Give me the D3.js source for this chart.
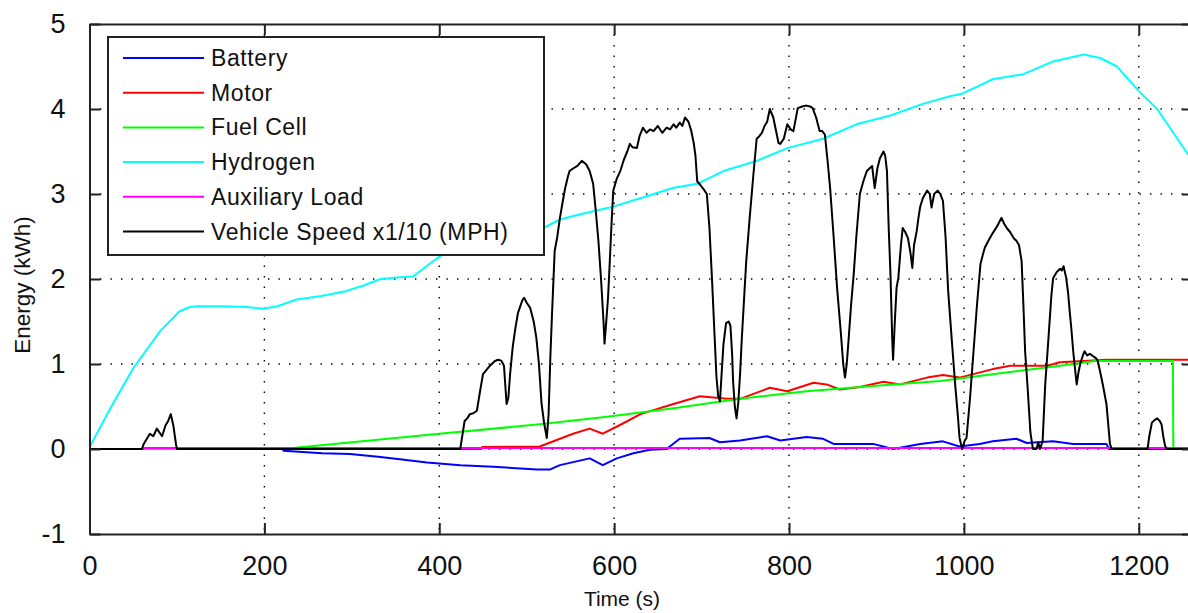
<!DOCTYPE html>
<html>
<head>
<meta charset="utf-8">
<script src="https://cdn.jsdelivr.net/npm/d3@7"></script>
<style>
  body { margin: 0; background: #fff; }
  svg { display: block; font-family: "Liberation Sans", Arial, sans-serif; }
  .tick text { fill: #111; }
</style>
</head>
<body>
<svg id="chart" width="1188" height="613"></svg>
<script>
// Series: [time (s), value]
const battery = [[0,0],[221,0],[222,-0.02],[266,-0.05],[298,-0.06],[330,-0.09],[355,-0.12],[386,-0.16],[424,-0.19],[462,-0.21],[512,-0.24],[527,-0.24],[538,-0.19],[572,-0.11],[587,-0.19],[603,-0.11],[622,-0.05],[641,-0.01],[660,0],[675,0.12],[709,0.13],[721,0.08],[744,0.1],[775,0.15],[790,0.1],[820,0.14],[839,0.12],[851,0.06],[896,0.06],[919,0],[950,0.06],[976,0.09],[995,0.03],[1018,0.06],[1033,0.09],[1060,0.12],[1072,0.07],[1102,0.09],[1125,0.06],[1163,0.06],[1166,0],[1262,0]];

const motor = [[0,0],[448,0],[449,0.025],[515,0.03],[553,0.18],[572,0.24],[587,0.18],[610,0.3],[630,0.41],[668,0.53],[698,0.62],[729,0.59],[744,0.59],[778,0.72],[798,0.68],[828,0.78],[843,0.76],[858,0.7],[881,0.73],[908,0.79],[927,0.76],[958,0.84],[976,0.87],[995,0.84],[1033,0.94],[1053,0.98],[1095,0.98],[1110,1.02],[1163,1.05],[1262,1.05]];

const fuelCell = [[0,0],[221,0],[300,0.08],[400,0.18],[515,0.29],[592,0.38],[668,0.48],[744,0.59],[820,0.68],[896,0.74],[973,0.8],[1033,0.88],[1110,0.98],[1150,1.035],[1239,1.035],[1239.5,0],[1262,0]];

const hydrogen = [[0,0],[2,0.06],[25,0.5],[50,0.95],[81,1.39],[103,1.62],[115,1.67],[123,1.68],[150,1.68],[180,1.67],[199,1.65],[215,1.68],[237,1.76],[265,1.8],[294,1.86],[315,1.93],[333,2.0],[355,2.02],[370,2.03],[389,2.18],[404,2.29],[430,2.4],[460,2.45],[490,2.52],[519,2.6],[538,2.7],[565,2.77],[595,2.84],[630,2.95],[667,3.07],[695,3.12],[725,3.27],[763,3.39],[798,3.54],[839,3.65],[877,3.82],[915,3.92],[953,4.06],[984,4.15],[998,4.18],[1033,4.35],[1068,4.41],[1102,4.56],[1137,4.64],[1156,4.6],[1175,4.5],[1200,4.21],[1221,4.0],[1256,3.47],[1262,3.4]];

const auxLoad = [[0,0],[62,0],[62.5,0.012],[1262,0.012]];

// vehicle speed, already divided by 10
const speed = [[0,0],[60,0],[62,0.06],[69,0.18],[73,0.15],[77,0.24],[83,0.15],[87,0.28],[90,0.33],[93,0.41],[96,0.27],[99,0.05],[100,0],
  [424,0],[429,0.33],[432,0.36],[435,0.41],[439,0.42],[443,0.45],[447,0.7],[450,0.88],[454,0.93],[458,0.98],[463,1.03],[467,1.05],[471,1.04],[474,0.98],[477,0.53],[479,0.6],[481,0.88],[484,1.2],[487,1.42],[490,1.6],[492,1.66],[495,1.75],[497,1.78],[500,1.72],[504,1.66],[508,1.5],[511,1.31],[514,1.0],[517,0.53],[520,0.3],[523,0.13],[525,0.4],[527,1.07],[529,1.6],[532,2.33],[535,2.5],[538,2.72],[541,2.9],[544,3.07],[547,3.2],[549,3.27],[553,3.3],[558,3.33],[563,3.39],[568,3.35],[572,3.27],[576,3.12],[579,2.8],[582,2.45],[585,2.0],[588,1.47],[589,1.24],[591,1.5],[593,1.78],[595,2.2],[597,2.65],[599,3.04],[603,3.18],[607,3.27],[611,3.4],[615,3.5],[618,3.59],[621,3.55],[626,3.54],[629,3.68],[633,3.78],[637,3.72],[641,3.76],[645,3.74],[650,3.8],[655,3.72],[660,3.78],[664,3.76],[668,3.82],[671,3.78],[675,3.84],[678,3.8],[681,3.9],[685,3.85],[688,3.75],[691,3.6],[693,3.45],[695,3.15],[699,3.1],[702,3.06],[706,3.0],[709,2.6],[712,1.98],[715,1.3],[717,0.85],[719,0.62],[721,0.56],[723,0.9],[725,1.23],[728,1.48],[731,1.5],[733,1.45],[735,1.1],[736,0.8],[738,0.5],[740,0.36],[742,0.55],[744,0.88],[746,1.3],[748,1.66],[751,2.2],[755,2.72],[759,3.2],[763,3.65],[766,3.68],[769,3.72],[772,3.8],[775,3.85],[778,4.0],[782,3.9],[785,3.75],[788,3.6],[790,3.59],[794,3.65],[798,3.82],[802,3.76],[805,3.74],[810,4.01],[815,4.03],[820,4.04],[824,4.03],[827,4.01],[831,3.9],[835,3.74],[838,3.74],[841,3.7],[844,3.4],[847,3.07],[851,2.5],[855,1.89],[859,1.4],[862,1.0],[864,0.84],[866,1.0],[868,1.27],[871,1.7],[874,2.06],[877,2.5],[881,3.0],[885,3.15],[889,3.27],[892,3.3],[895,3.33],[898,3.07],[901,3.3],[904,3.42],[908,3.5],[910,3.45],[912,3.27],[914,2.6],[916,2.06],[918,1.3],[919,1.05],[921,1.5],[923,1.9],[925,2.01],[928,2.4],[930,2.6],[933,2.55],[936,2.48],[939,2.3],[941,2.13],[943,2.4],[946,2.56],[948,2.72],[950,2.85],[953,2.95],[958,3.04],[961,3.0],[963,2.84],[966,3.0],[970,3.04],[973,3.0],[976,2.92],[979,2.5],[982,1.86],[986,1.3],[990,0.76],[993,0.4],[995,0.13],[998,0],[1001,0.1],[1003,0.13],[1007,0.6],[1011,1.15],[1015,1.7],[1019,2.18],[1022,2.3],[1024,2.37],[1028,2.45],[1033,2.54],[1038,2.62],[1043,2.72],[1046,2.65],[1049,2.6],[1053,2.55],[1057,2.48],[1060,2.45],[1063,2.4],[1066,2.21],[1068,1.7],[1070,1.15],[1073,0.7],[1076,0.2],[1078,0.06],[1079,0],[1083,0],[1085,0.08],[1087,0],[1090,0.09],[1093,0.76],[1096,1.2],[1098,1.5],[1100,1.8],[1102,2.01],[1106,2.08],[1110,2.12],[1112,2.1],[1114,2.15],[1117,2.01],[1119,1.85],[1121,1.62],[1123,1.4],[1125,1.15],[1127,0.95],[1129,0.76],[1131,0.9],[1133,1.0],[1136,1.1],[1138,1.15],[1141,1.1],[1144,1.12],[1148,1.09],[1151,1.07],[1153,1.04],[1156,0.9],[1159,0.75],[1163,0.53],[1165,0.3],[1167,0.06],[1169,0],
  [1210,0],[1212,0.15],[1215,0.31],[1218,0.34],[1221,0.36],[1224,0.33],[1226,0.29],[1228,0.15],[1230,0.04],[1232,0],[1262,0]];

const seriesNames = ["Battery", "Motor", "Fuel Cell", "Hydrogen", "Auxiliary Load", "Vehicle Speed x1/10 (MPH)"];
const seriesData = [battery, motor, fuelCell, hydrogen, auxLoad, speed];
const seriesColors = ["#0000ff", "#ff0000", "#00ff00", "#00ffff", "#ff00ff", "#000000"];

const xTicks = [0, 200, 400, 600, 800, 1000, 1200];
const yTicks = [-1, 0, 1, 2, 3, 4, 5];

// layout (plot runs past the right edge of the window, like the source image)
const margin = {left: 89.5, top: 24};
const plotW = 1103.5, plotH = 510;

const svg = d3.select('#chart');
const x = d3.scaleLinear().domain([0, 1262]).range([0, plotW]);
const y = d3.scaleLinear().domain([-1, 5]).range([plotH, 0]);

const g = svg.append('g').attr('transform', `translate(${margin.left},${margin.top})`);

g.append('clipPath').attr('id', 'clip')
  .append('rect').attr('width', plotW).attr('height', plotH);

// dotted grid
const grid = g.append('g').attr('stroke', '#000').attr('stroke-width', 1.4)
  .attr('stroke-dasharray', '1.4,9.1');
grid.selectAll('.vgrid').data(xTicks.filter(d => d > 0)).enter().append('line')
  .attr('x1', d => x(d)).attr('x2', d => x(d)).attr('y1', 0).attr('y2', plotH);
grid.selectAll('.hgrid').data(yTicks.filter(d => d > -1 && d < 5)).enter().append('line')
  .attr('x1', 0).attr('x2', plotW).attr('y1', d => y(d)).attr('y2', d => y(d));

// data lines
const line = d3.line().x(d => x(d[0])).y(d => y(d[1]));
const lines = g.append('g').attr('clip-path', 'url(#clip)');
seriesData.forEach((data, i) => {
  lines.append('path')
    .datum(data)
    .attr('fill', 'none')
    .attr('stroke', seriesColors[i])
    .attr('stroke-width', 2)
    .attr('stroke-linejoin', 'round')
    .attr('d', line);
});

// axes, ticks pointing in, MATLAB box style
function styleAxis(sel, fontSize) {
  sel.select('.domain').attr('stroke', '#222').attr('stroke-width', 2);
  sel.selectAll('.tick line').attr('stroke', '#222').attr('stroke-width', 2);
  sel.selectAll('.tick text').attr('font-size', fontSize);
}

// plain labels: no thousands comma, ascii hyphen for negatives
const plain = d => String(d);

g.append('g').attr('transform', `translate(0,${plotH})`)
  .call(d3.axisBottom(x).tickValues(xTicks).tickSizeInner(-11).tickSizeOuter(0).tickPadding(22)
    .tickFormat(plain))
  .call(s => styleAxis(s, 27));
g.append('g')
  .call(d3.axisTop(x).tickValues(xTicks).tickSizeInner(-11).tickSizeOuter(0).tickFormat(''))
  .call(s => styleAxis(s, 0));
g.append('g')
  .call(d3.axisLeft(y).tickValues(yTicks).tickSizeInner(-11).tickSizeOuter(0).tickPadding(24)
    .tickFormat(plain))
  .call(s => styleAxis(s, 27));
g.append('g').attr('transform', `translate(${plotW},0)`)
  .call(d3.axisRight(y).tickValues(yTicks).tickSizeInner(-11).tickSizeOuter(0).tickFormat(''))
  .call(s => styleAxis(s, 0));

// axis titles
svg.append('text')
  .attr('x', 622).attr('y', 606)
  .attr('text-anchor', 'middle').attr('font-size', 21).attr('fill', '#111')
  .text('Time (s)');
svg.append('text')
  .attr('transform', 'translate(30,285) rotate(-90)')
  .attr('text-anchor', 'middle').attr('font-size', 22.5).attr('fill', '#111')
  .text('Energy (kWh)');

// legend
const legend = svg.append('g');
legend.append('rect')
  .attr('x', 108).attr('y', 37).attr('width', 436).attr('height', 218)
  .attr('fill', '#fff').attr('stroke', '#222').attr('stroke-width', 2);
seriesNames.forEach((name, i) => {
  const ly = 58 + i * 34.7;
  legend.append('line')
    .attr('x1', 123).attr('x2', 204).attr('y1', ly).attr('y2', ly)
    .attr('stroke', seriesColors[i]).attr('stroke-width', 2);
  legend.append('text')
    .attr('x', 211).attr('y', ly + 8)
    .attr('font-size', 23).attr('fill', '#111')
    .attr('letter-spacing', 0.6)
    .text(name);
});
</script>
</body>
</html>
